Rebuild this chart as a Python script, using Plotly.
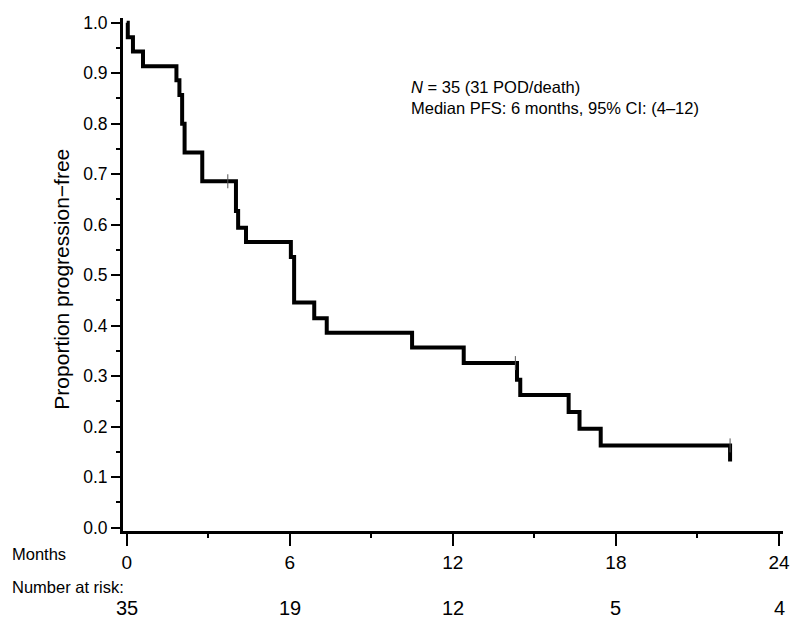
import plotly.graph_objects as go

# Kaplan-Meier step data (months, proportion progression-free)
time_months = [0, 0.04, 0.23, 0.6, 1.83, 1.94, 2.04, 2.13, 2.78, 4.02, 4.1, 4.39,
               6.04, 6.16, 6.9, 7.36, 10.5, 12.4, 14.36, 14.48, 16.26, 16.66, 17.44, 22.2]
surv = [1.0, 0.971, 0.943, 0.914, 0.886, 0.857, 0.800, 0.743, 0.686, 0.627, 0.594, 0.566,
        0.536, 0.446, 0.415, 0.386, 0.357, 0.326, 0.293, 0.263, 0.229, 0.196, 0.163, 0.131]

# Censoring marks
censor_t = [3.72, 14.3, 22.2]
censor_s = [0.686, 0.326, 0.163]

# Axis / risk table
x_ticks = [0, 6, 12, 18, 24]
x_minor = [3, 9, 15, 21]
y_ticks = [round(i * 0.1, 1) for i in range(11)]
y_minor = [round(0.05 + i * 0.1, 2) for i in range(10)]
at_risk = [35, 19, 12, 5, 4]

FONT = "Liberation Sans, Arial, Helvetica, sans-serif"

fig = go.Figure()
fig.add_trace(go.Scatter(
    x=time_months, y=surv, mode="lines",
    line=dict(shape="hv", color="black", width=4),
    hoverinfo="skip", showlegend=False))
fig.add_trace(go.Scatter(
    x=censor_t, y=censor_s, mode="markers",
    marker=dict(symbol="line-ns", size=10, line=dict(color="#555555", width=1)),
    hoverinfo="skip", showlegend=False))

annotations = []
annotations.append(dict(x=-0.171, y=-0.0448, xref="paper", yref="paper", text="Months",
                        showarrow=False, xanchor="left", yanchor="middle",
                        font=dict(family=FONT, size=16.5, color="black")))
annotations.append(dict(x=-0.171, y=-0.109, xref="paper", yref="paper", text="Number at risk:",
                        showarrow=False, xanchor="left", yanchor="middle",
                        font=dict(family=FONT, size=16.5, color="black")))
for t, n in zip(x_ticks, at_risk):
    annotations.append(dict(x=t, y=-0.1495, xref="x", yref="paper", text=str(n),
                            showarrow=False, xanchor="center", yanchor="middle",
                            font=dict(family=FONT, size=20, color="black")))
annotations.append(dict(x=-0.0924, y=0.49, xref="paper", yref="paper",
                        text="Proportion progression\u2212free", textangle=-90,
                        showarrow=False, xanchor="center", yanchor="middle",
                        font=dict(family=FONT, size=21, color="black")))
annotations.append(dict(x=10.4, y=0.851, xref="x", yref="y",
                        text="<i>N</i> = 35 (31 POD/death)<br>Median PFS: 6 months, 95% CI: (4\u201312)",
                        showarrow=False, xanchor="left", yanchor="middle", align="left",
                        font=dict(family=FONT, size=16.5, color="black")))

fig.update_layout(
    width=800, height=626,
    margin=dict(l=123, r=17, t=18, b=95, autoexpand=False),
    paper_bgcolor="white", plot_bgcolor="white",
    annotations=annotations,
    xaxis=dict(range=[-0.136, 24.147], tickmode="array", tickvals=x_ticks,
               ticktext=[str(v) for v in x_ticks],
               showgrid=False, zeroline=False, showline=True, linecolor="black", linewidth=3,
               ticks="outside", ticklen=12, tickwidth=2, tickcolor="black",
               minor=dict(tickvals=x_minor, ticks="outside", ticklen=4, tickwidth=2, tickcolor="black"),
               tickfont=dict(family=FONT, size=19, color="black")),
    yaxis=dict(range=[-0.0065, 1.0093], tickmode="array", tickvals=y_ticks,
               ticktext=["%.1f" % v for v in y_ticks],
               showgrid=False, zeroline=False, showline=True, linecolor="black", linewidth=3,
               ticks="outside", ticklen=9, tickwidth=2, tickcolor="black",
               minor=dict(tickvals=y_minor, ticks="outside", ticklen=4, tickwidth=2, tickcolor="black"),
               tickfont=dict(family=FONT, size=17.5, color="black")),
)

fig.write_html("out.html", config={"displayModeBar": False},
               post_script="document.body.style.margin='0px';")
